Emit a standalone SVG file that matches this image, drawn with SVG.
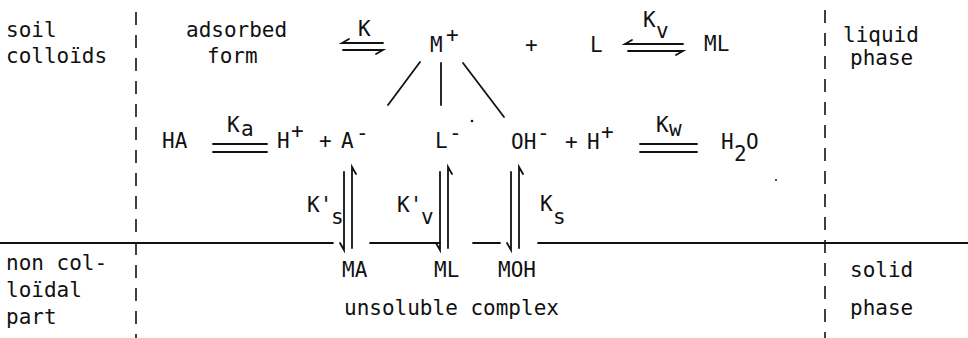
<svg xmlns="http://www.w3.org/2000/svg" width="968" height="338" viewBox="0 0 968 338">
<style>
text{font-family:"DejaVu Sans Mono","Liberation Mono",monospace;font-size:21px;fill:#111}
.ln{stroke:#111;stroke-width:1.8;fill:none;stroke-linecap:round}
.dash{stroke:#111;stroke-width:1.6;fill:none;stroke-dasharray:13 10}
</style>
<rect width="968" height="338" fill="#fff"/>
<g id="dividers">
<line class="dash" x1="136" y1="12" x2="136" y2="338"/>
<line class="dash" x1="825" y1="10" x2="825" y2="338"/>
</g>
<g id="labels-left">
<text x="6" y="37">soil</text>
<text x="6" y="63">colloïds</text>
<text x="6" y="270">non col-</text>
<text x="6" y="297">loïdal</text>
<text x="6" y="324">part</text>
</g>
<g id="labels-right">
<text x="843" y="42">liquid</text>
<text x="850" y="65">phase</text>
<text x="850" y="277">solid</text>
<text x="850" y="315">phase</text>
</g>
<g id="adsorbed">
<text x="186" y="37">adsorbed</text>
<text x="207" y="63">form</text>
</g>
<g id="M">
<text x="430" y="52">M</text><text x="446" y="42">+</text>
</g>
<g id="plus1"><text x="525" y="52">+</text></g>
<g id="L"><text x="590" y="52">L</text></g>
<g id="ML-top"><text x="704" y="51">ML</text></g>
<g id="HA"><text x="162" y="148">HA</text></g>
<g id="Hplus-A">
<text x="277" y="148">H</text><text x="291" y="138">+</text>
<text x="319" y="148">+</text>
<text x="341" y="148">A</text><text x="356" y="140">-</text>
</g>
<g id="Lminus"><text x="435" y="148">L</text><text x="449" y="140">-</text></g>
<g id="OH-H">
<text x="511" y="149">OH</text><text x="537" y="140">-</text>
<text x="565" y="149">+</text>
<text x="587" y="149">H</text><text x="601" y="139">+</text>
</g>
<g id="H2O"><text x="721" y="149">H</text><text x="734" y="161">2</text><text x="746" y="149">O</text></g>
<g id="MA"><text x="342" y="277">MA</text></g>
<g id="ML-bottom"><text x="434" y="277">ML</text></g>
<g id="MOH"><text x="498" y="277">MOH</text></g>
<g id="unsoluble"><text x="344" y="315">unsoluble complex</text></g>
<g id="connectors">
<line class="ln" x1="0" y1="243" x2="333" y2="243"/>
<line class="ln" x1="370" y1="243" x2="440" y2="243"/>
<line class="ln" x1="473" y1="243" x2="500" y2="243"/>
<line class="ln" x1="538" y1="243" x2="968" y2="243"/>
<line class="ln" x1="420" y1="62" x2="388" y2="105"/>
<line class="ln" x1="441" y1="63" x2="441" y2="105"/>
<line class="ln" x1="463" y1="63" x2="504" y2="117"/>
<path class="ln" d="M383 43H342l7-4M343 50H383l-7 4"/>
<text x="358" y="36">K</text>
<path class="ln" d="M683 44H625l7-4M628 51H683l-7 4"/>
<text x="643" y="27">K</text><text x="656" y="38">v</text>
<path class="ln" d="M213 144H267M213 152H267"/>
<text x="227" y="132">K</text><text x="241" y="136">a</text>
<path class="ln" d="M640 144H697M640 152H697"/>
<text x="656" y="132">K</text><text x="669" y="136">w</text>
<path class="ln" d="M344 172V250l-4-7M352 248V167l4 7"/>
<text x="307" y="212">K'</text><text x="331" y="224">s</text>
<path class="ln" d="M440 172V250l-4-7M448 248V167l4 7"/>
<text x="397" y="212">K'</text><text x="421" y="224">v</text>
<path class="ln" d="M511 172V250l-4-7M519 248V167l4 7"/>
<text x="540" y="211">K</text><text x="553" y="224">s</text>
</g>
<circle cx="472" cy="121" r="1.3" fill="#111"/>
<circle cx="776" cy="180" r="1" fill="#111"/>
</svg>
